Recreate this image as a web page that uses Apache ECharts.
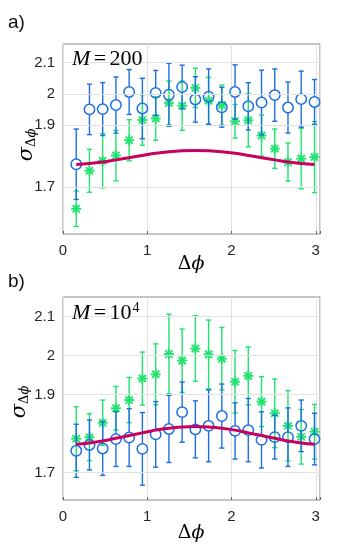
<!DOCTYPE html>
<html>
<head>
<meta charset="utf-8">
<script src="https://cdn.jsdelivr.net/npm/echarts@6/dist/echarts.min.js"></script>
<style>
  html, body { margin: 0; padding: 0; background: #fff; }
  #main { width: 355px; height: 551px; }
</style>
</head>
<body>
<div id="main"></div>
<script>
// phase difference positions (k*pi/20)
const dphi = [0.157, 0.314, 0.471, 0.628, 0.785, 0.942, 1.100, 1.257, 1.414, 1.571,
              1.728, 1.885, 2.042, 2.199, 2.356, 2.513, 2.670, 2.827, 2.985];

// panel a) M = 200
const blueA    = [1.774, 1.950, 1.951, 1.964, 2.006, 1.953, 2.003, 1.997, 2.022, 1.982,
                  1.991, 1.957, 2.006, 1.960, 1.972, 1.996, 1.956, 1.983, 1.974];
const blueAErr = [0.113, 0.081, 0.085, 0.090, 0.072, 0.097, 0.072, 0.101, 0.070, 0.073,
                  0.089, 0.064, 0.087, 0.076, 0.104, 0.084, 0.082, 0.090, 0.072];
const greenA    = [1.631, 1.753, 1.785, 1.802, 1.851, 1.916, 1.921, 1.971, 1.962, 2.019,
                   1.978, 1.964, 1.912, 1.915, 1.866, 1.824, 1.781, 1.792, 1.797];
const greenAErr = [0.057, 0.069, 0.087, 0.081, 0.066, 0.081, 0.070, 0.070, 0.079, 0.063,
                   0.075, 0.064, 0.054, 0.085, 0.066, 0.063, 0.061, 0.097, 0.114];

// panel b) M = 10^4
const blueB    = [1.756, 1.771, 1.762, 1.786, 1.790, 1.761, 1.798, 1.812, 1.855, 1.811,
                  1.820, 1.845, 1.807, 1.809, 1.784, 1.791, 1.791, 1.820, 1.786];
const blueBErr = [0.068, 0.064, 0.069, 0.070, 0.074, 0.093, 0.084, 0.086, 0.077, 0.073,
                  0.092, 0.082, 0.072, 0.081, 0.072, 0.056, 0.075, 0.066, 0.066];
const greenB    = [1.787, 1.791, 1.828, 1.865, 1.886, 1.941, 1.952, 2.004, 1.987, 2.018,
                   2.003, 1.992, 1.933, 1.948, 1.882, 1.852, 1.820, 1.792, 1.805];
const greenBErr = [0.082, 0.060, 0.058, 0.056, 0.058, 0.068, 0.078, 0.102, 0.081, 0.084,
                   0.088, 0.080, 0.080, 0.074, 0.064, 0.088, 0.090, 0.070, 0.070];

// theory curve (same in both panels)
const theory = [1.773, 1.776, 1.781, 1.788, 1.795, 1.802, 1.809, 1.814, 1.817, 1.818,
                1.817, 1.814, 1.809, 1.802, 1.795, 1.788, 1.781, 1.776, 1.773];

const xTicks = [0, 1, 2, 3];
const yTicks = [1.7, 1.9, 2, 2.1];

const BLUE = '#1c6fe3';
const GREEN = '#1fe36f';
const RED = '#c8005e';
const GRID = '#e2e2e2';
const FONT = 'Liberation Sans';

let myChart = echarts.init(document.getElementById('main'));

function zip(ys, es) {
    return dphi.map((x, i) => [x, ys[i], es[i]]);
}

// error bar + marker drawn through the axes
function errRender(kind, color) {
    return function (params, api) {
        const x = api.value(0), y = api.value(1), e = api.value(2);
        const c = api.coord([x, y]);
        const hi = api.coord([x, y + e]);
        const lo = api.coord([x, y - e]);
        const cap = 2.6;
        const ls = { stroke: color, lineWidth: 1.4 };
        const kids = [];
        if (kind === 'circle') {
            const r = 5.2;
            kids.push({ type: 'line', shape: { x1: c[0], y1: hi[1], x2: c[0], y2: c[1] - r }, style: ls });
            kids.push({ type: 'line', shape: { x1: c[0], y1: c[1] + r, x2: c[0], y2: lo[1] }, style: ls });
            kids.push({ type: 'circle', shape: { cx: c[0], cy: c[1], r: r }, style: { fill: 'none', stroke: color, lineWidth: 1.5 } });
        } else {
            kids.push({ type: 'line', shape: { x1: c[0], y1: hi[1], x2: c[0], y2: lo[1] }, style: ls });
            const s = 5, d = 3.6;
            const st = { stroke: color, lineWidth: 1.9 };
            kids.push({ type: 'line', shape: { x1: c[0] - s, y1: c[1], x2: c[0] + s, y2: c[1] }, style: st });
            kids.push({ type: 'line', shape: { x1: c[0], y1: c[1] - s, x2: c[0], y2: c[1] + s }, style: st });
            kids.push({ type: 'line', shape: { x1: c[0] - d, y1: c[1] - d, x2: c[0] + d, y2: c[1] + d }, style: st });
            kids.push({ type: 'line', shape: { x1: c[0] - d, y1: c[1] + d, x2: c[0] + d, y2: c[1] - d }, style: st });
        }
        kids.push({ type: 'line', shape: { x1: c[0] - cap, y1: hi[1], x2: c[0] + cap, y2: hi[1] }, style: ls });
        kids.push({ type: 'line', shape: { x1: c[0] - cap, y1: lo[1], x2: c[0] + cap, y2: lo[1] }, style: ls });
        return { type: 'group', children: kids };
    };
}

function xAxisOf(idx) {
    return {
        type: 'value', gridIndex: idx, min: 0, max: 3.05, interval: 1,
        axisLine: { show: false },
        axisTick: { inside: true, length: 3, lineStyle: { color: '#666' } },
        axisLabel: { color: '#262626', fontFamily: FONT, fontSize: 15, margin: 9,
            customValues: xTicks },
        splitLine: { show: true, lineStyle: { color: GRID, width: 1 } }
    };
}

function yAxisOf(idx, min, max) {
    return {
        type: 'value', gridIndex: idx, min: min, max: max,
        axisLine: { show: false },
        axisTick: { show: true, inside: true, length: 3, customValues: yTicks, lineStyle: { color: '#666' } },
        axisLabel: { color: '#262626', fontFamily: FONT, fontSize: 15, margin: 8,
            customValues: yTicks, formatter: v => String(+v.toFixed(2)) },
        splitLine: { show: false }
    };
}

function panelSeries(idx, blue, blueErr, green, greenErr) {
    return [
        {   // horizontal grid lines at the labelled ticks
            type: 'line', xAxisIndex: idx, yAxisIndex: idx, data: [], silent: true,
            markLine: {
                silent: true, symbol: ['none', 'none'], label: { show: false },
                lineStyle: { type: 'solid', color: GRID, width: 1 },
                data: yTicks.map(v => ({ yAxis: v }))
            }
        },
        {
            type: 'custom', xAxisIndex: idx, yAxisIndex: idx,
            renderItem: errRender('star', GREEN), data: zip(green, greenErr)
        },
        {
            type: 'custom', xAxisIndex: idx, yAxisIndex: idx,
            renderItem: errRender('circle', BLUE), data: zip(blue, blueErr)
        },
        {
            type: 'line', xAxisIndex: idx, yAxisIndex: idx, smooth: true, showSymbol: false,
            lineStyle: { color: RED, width: 3 },
            data: dphi.map((x, i) => [x, theory[i]])
        }
    ];
}

function serifTitle(x, y, rich, text) {
    return {
        type: 'text', x: x, y: y, z: 100,
        style: { text: text, rich: rich, align: 'center', verticalAlign: 'middle' }
    };
}

const mathRich = {
    i: { fontFamily: 'Liberation Serif', fontStyle: 'italic', fontSize: 22, color: '#111' },
    u: { fontFamily: 'Liberation Serif', fontSize: 22, color: '#111' },
    s: { fontFamily: 'Liberation Serif', fontSize: 14, color: '#111', padding: [0, 0, 10, 1] }
};

const axRich = {
    u: { fontFamily: 'DejaVu Serif', fontSize: 19, color: '#333' },
    i: { fontFamily: 'DejaVu Serif', fontStyle: 'italic', fontSize: 19, color: '#333' }
};

const sigRich = {
    g: { fontFamily: 'DejaVu Serif', fontStyle: 'italic', fontSize: 21, color: '#333' },
    s: { fontFamily: 'DejaVu Serif', fontSize: 13, color: '#333', padding: [10, 0, 0, 0] },
    si: { fontFamily: 'DejaVu Serif', fontStyle: 'italic', fontSize: 13, color: '#333', padding: [10, 0, 0, 0] }
};

function sigmaLabel(x, y) {
    return {
        type: 'text', x: x, y: y, rotation: Math.PI / 2, z: 100,
        style: { text: '{g|σ}{s|Δ}{si|ϕ}', rich: sigRich, align: 'center', verticalAlign: 'middle' }
    };
}

function mLabel(x, y, text) {
    return {
        type: 'text', x: x, y: y, z: 100,
        style: { text: text, rich: mathRich, align: 'left', verticalAlign: 'middle' }
    };
}

let option = {
    animation: false,
    grid: [
        { left: 63, top: 44, width: 257, height: 190, show: true, borderColor: '#8a8a8a', borderWidth: 1, backgroundColor: 'transparent' },
        { left: 63, top: 297, width: 257, height: 203, show: true, borderColor: '#8a8a8a', borderWidth: 1, backgroundColor: 'transparent' }
    ],
    xAxis: [xAxisOf(0), xAxisOf(1)],
    yAxis: [yAxisOf(0, 1.55, 2.16), yAxisOf(1, 1.63, 2.15)],
    series: [].concat(
        panelSeries(0, blueA, blueAErr, greenA, greenAErr),
        panelSeries(1, blueB, blueBErr, greenB, greenBErr)
    ),
    graphic: [
        { type: 'text', left: 8, top: 13, style: { text: 'a)', fontFamily: FONT, fontSize: 19, fill: '#111' } },
        { type: 'text', left: 8, top: 272, style: { text: 'b)', fontFamily: FONT, fontSize: 19, fill: '#111' } },
        mLabel(72, 59, '{i|M} {u|=} {u|200}'),
        mLabel(72, 313, '{i|M} {u|=} {u|10}{s|4}'),
        serifTitle(191, 264, axRich, '{u|Δ}{i|ϕ}'),
        serifTitle(191, 533, axRich, '{u|Δ}{i|ϕ}'),
        sigmaLabel(27, 145),
        sigmaLabel(20, 402)
    ]
};

myChart.setOption(option);
</script>
</body>
</html>
